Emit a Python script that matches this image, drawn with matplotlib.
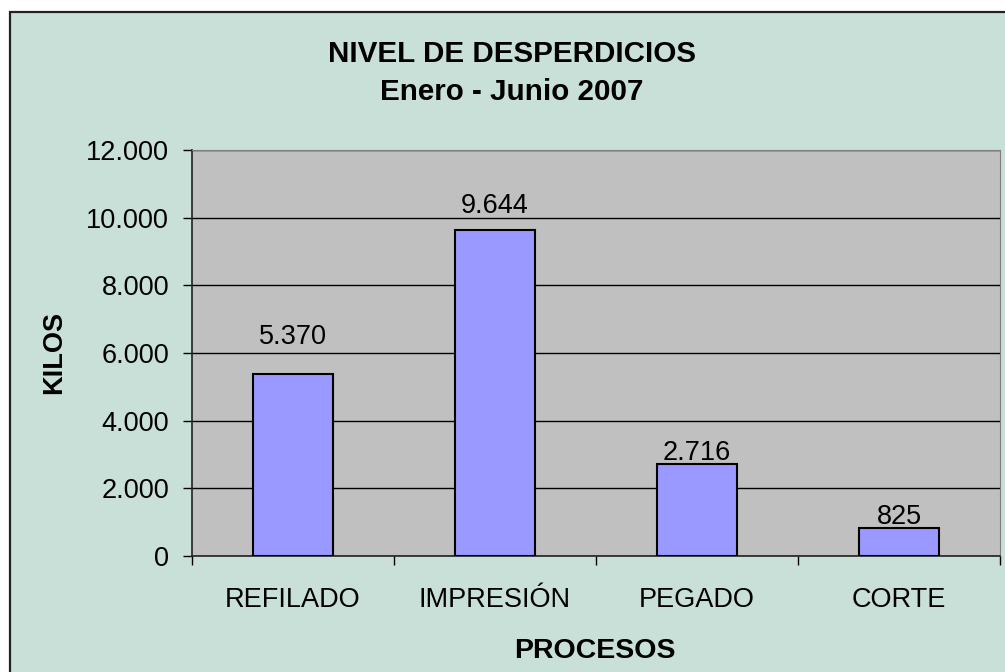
import numpy as np
import matplotlib
matplotlib.use("Agg")
from matplotlib import pyplot as plt
from matplotlib.patches import Rectangle
from matplotlib.ticker import FuncFormatter, MultipleLocator

plt.rcParams['font.family'] = ['Liberation Sans', 'DejaVu Sans']

procesos = ['REFILADO', 'IMPRESIÓN', 'PEGADO', 'CORTE']
kilos = [5370, 9644, 2716, 825]
title_lines = ['NIVEL DE DESPERDICIOS', 'Enero - Junio 2007']

# label gaps above bars (points), as Excel placed them
label_gap = [21.5, 12, 3, 3]


def miles(v, pos=None):
    return f"{int(v):,}".replace(',', '.')


fig = plt.figure(figsize=(10.05, 6.72), dpi=100, facecolor='white')
# outer chart area with border
fig.patches.append(Rectangle((10 / 1005, -0.01), 1.0, 1 - 12 / 672 + 0.01,
                             transform=fig.transFigure, facecolor='#C8E0D8',
                             edgecolor='#222222', linewidth=1.6, zorder=-10))

ax = fig.add_axes([192 / 1005, 1 - 556 / 672, 808 / 1005, 406 / 672])
ax.set_zorder(1)
ax.set_facecolor('#C0C0C0')

x = np.arange(len(procesos))
ax.bar(x, kilos, width=0.4, color='#9999FF', edgecolor='black', linewidth=1.5, zorder=3)

for xi, v, g in zip(x, kilos, label_gap):
    ax.annotate(miles(v), (xi, v), xytext=(0, g), textcoords='offset points',
                ha='center', va='baseline', fontsize=19.5)

ax.set_ylim(0, 12000)
ax.set_xlim(-0.5, len(procesos) - 0.5)
ax.yaxis.set_major_locator(MultipleLocator(2000))
ax.yaxis.set_major_formatter(FuncFormatter(miles))
ax.grid(axis='y', color='black', linewidth=1, zorder=1)
ax.set_axisbelow(True)

ax.set_xticks(x)
ax.set_xticklabels(procesos)
ax.set_xticks(np.arange(-0.5, len(procesos)), minor=True)
ax.tick_params(axis='x', which='major', length=0, labelsize=19.5, pad=22)
ax.tick_params(axis='x', which='minor', length=6.5, width=1, direction='out')
ax.tick_params(axis='y', length=6.5, width=1, direction='out', labelsize=19.5, pad=10)

for s in ['top', 'right']:
    ax.spines[s].set_color('#808080')
for s in ['left', 'bottom']:
    ax.spines[s].set_color('#222222')
    ax.spines[s].set_linewidth(1.2)

fig.text(512 / 1005, 1 - 62 / 672, title_lines[0], ha='center', va='baseline',
         fontsize=21.3, fontweight='bold')
fig.text(512 / 1005, 1 - 100 / 672, title_lines[1], ha='center', va='baseline',
         fontsize=21.3, fontweight='bold')
fig.text(54 / 1005, 1 - 352 / 672, 'KILOS', rotation=90, ha='center', va='center',
         fontsize=19.5, fontweight='bold')
fig.text(595 / 1005, 1 - 658 / 672, 'PROCESOS', ha='center', va='baseline',
         fontsize=20.5, fontweight='bold')

fig.savefig('out.png', dpi=100, facecolor=fig.get_facecolor())
